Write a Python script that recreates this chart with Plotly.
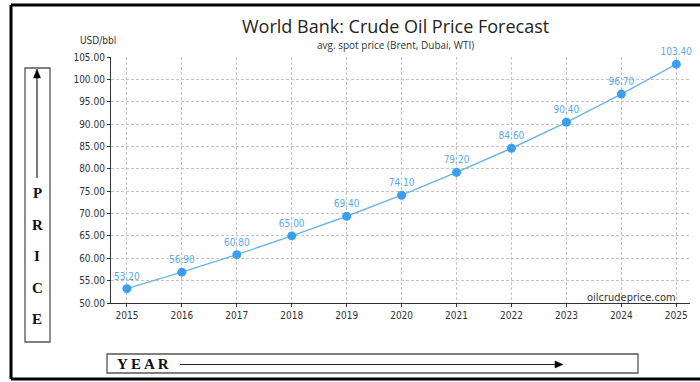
import plotly.graph_objects as go

years = [2015, 2016, 2017, 2018, 2019, 2020, 2021, 2022, 2023, 2024, 2025]
prices = [53.20, 56.90, 60.80, 65.00, 69.40, 74.10, 79.20, 84.60, 90.40, 96.70, 103.40]
price_labels = [f"{p:.2f}" for p in prices]
y_ticks = [50, 55, 60, 65, 70, 75, 80, 85, 90, 95, 100, 105]
y_tick_labels = [f"{v:.2f}" for v in y_ticks]
price_letters = ["P", "R", "I", "C", "E"]
year_word = "Y E A R"

W, H = 700, 382
L, R, T, B = 111, 10, 57, 79
PW, PH = W - L - R, H - T - B

def px(x):
    return (x - L) / PW

def py(y):
    return (H - B - y) / PH

NARROW = "DejaVu Sans Condensed, Liberation Sans Narrow, Roboto, sans-serif"

fig = go.Figure()
fig.add_trace(go.Scatter(
    x=years, y=prices, mode="lines+markers+text",
    line=dict(color="#6db3ea", width=1.4),
    marker=dict(color="#3a9ff0", size=9),
    text=price_labels, textposition="top center",
    textfont=dict(family=NARROW, size=10, color="#5aa8e8"),
    cliponaxis=False, hoverinfo="skip", showlegend=False,
))

shapes = []
# outer frame: top, left, bottom edges (right edge runs off the picture)
frame = dict(color="black", width=3)
shapes.append(dict(type="line", xref="paper", yref="paper",
                   x0=px(11), x1=px(700), y0=py(5), y1=py(5), line=frame))
shapes.append(dict(type="line", xref="paper", yref="paper",
                   x0=px(11), x1=px(11), y0=py(5), y1=py(379), line=frame))
shapes.append(dict(type="line", xref="paper", yref="paper",
                   x0=px(11), x1=px(700), y0=py(379), y1=py(379), line=frame))
# PRICE box
shapes.append(dict(type="rect", xref="paper", yref="paper",
                   x0=px(25), x1=px(50), y0=py(68), y1=py(342),
                   line=dict(color="#555555", width=1.3)))
shapes.append(dict(type="line", xref="paper", yref="paper",
                   x0=px(37), x1=px(37), y0=py(77), y1=py(178),
                   line=dict(color="#222222", width=1.2)))
shapes.append(dict(type="path", xref="paper", yref="paper",
                   path=f"M {px(33.5)} {py(78)} L {px(40.5)} {py(78)} L {px(37)} {py(69)} Z",
                   fillcolor="black", line=dict(color="black", width=0.5)))
# YEAR box
shapes.append(dict(type="rect", xref="paper", yref="paper",
                   x0=px(107), x1=px(638), y0=py(354), y1=py(373),
                   line=dict(color="#555555", width=1.3)))
shapes.append(dict(type="line", xref="paper", yref="paper",
                   x0=px(180), x1=px(556), y0=py(364.5), y1=py(364.5),
                   line=dict(color="#222222", width=1.2)))
shapes.append(dict(type="path", xref="paper", yref="paper",
                   path=f"M {px(555)} {py(361)} L {px(555)} {py(368)} L {px(563)} {py(364.5)} Z",
                   fillcolor="black", line=dict(color="black", width=0.5)))

annotations = []
annotations.append(dict(text="World Bank: Crude Oil Price Forecast", xref="paper", yref="paper",
                        x=px(395), y=py(26), showarrow=False, xanchor="center", yanchor="middle",
                        font=dict(family="Open Sans, Noto Sans, sans-serif", size=18, color="#222222")))
annotations.append(dict(text="avg. spot price (Brent, Dubai, WTI)", xref="paper", yref="paper",
                        x=px(395), y=py(44.5), showarrow=False, xanchor="center", yanchor="middle",
                        font=dict(family="Open Sans, Noto Sans, sans-serif", size=10, color="#333333")))
annotations.append(dict(text="USD/bbl", xref="paper", yref="paper",
                        x=px(78), y=py(40), showarrow=False, xanchor="left", yanchor="middle",
                        font=dict(family=NARROW, size=10, color="#333333")))
annotations.append(dict(text="oilcrudeprice.com", xref="paper", yref="paper",
                        x=px(678), y=py(297), showarrow=False, xanchor="right", yanchor="middle",
                        font=dict(family=NARROW, size=11, color="#333333")))
for letter, yy in zip(price_letters, [193, 225, 256, 288, 319]):
    annotations.append(dict(text=f"<b>{letter}</b>", xref="paper", yref="paper",
                            x=px(37), y=py(yy), showarrow=False, xanchor="center", yanchor="middle",
                            font=dict(family="Liberation Serif, DejaVu Serif, serif", size=15, color="#111111")))
annotations.append(dict(text=f"<b>{year_word}</b>", xref="paper", yref="paper",
                        x=px(115), y=py(363.5), showarrow=False, xanchor="left", yanchor="middle",
                        font=dict(family="Liberation Serif, DejaVu Serif, serif", size=15, color="#111111")))

fig.update_layout(
    width=W, height=H,
    margin=dict(l=L, r=R, t=T, b=B),
    paper_bgcolor="white", plot_bgcolor="white",
    shapes=shapes, annotations=annotations,
    xaxis=dict(range=[2014.71, 2025.25], tickmode="array", tickvals=years,
               ticktext=[str(y) for y in years],
               showgrid=True, gridcolor="#c4c4c4", griddash="3px,2px", gridwidth=1,
               showline=True, linecolor="#333333", linewidth=1.2,
               ticks="outside", ticklen=3, tickcolor="#333333",
               tickfont=dict(family=NARROW, size=10, color="#333333"),
               zeroline=False, fixedrange=True),
    yaxis=dict(range=[50, 105], tickmode="array", tickvals=y_ticks, ticktext=y_tick_labels,
               showgrid=True, gridcolor="#c4c4c4", griddash="3px,2px", gridwidth=1,
               showline=True, linecolor="#333333", linewidth=1.2,
               ticks="outside", ticklen=3, tickcolor="#333333",
               tickfont=dict(family=NARROW, size=10, color="#333333"),
               zeroline=False, fixedrange=True),
)

fig.write_html("out.html")
